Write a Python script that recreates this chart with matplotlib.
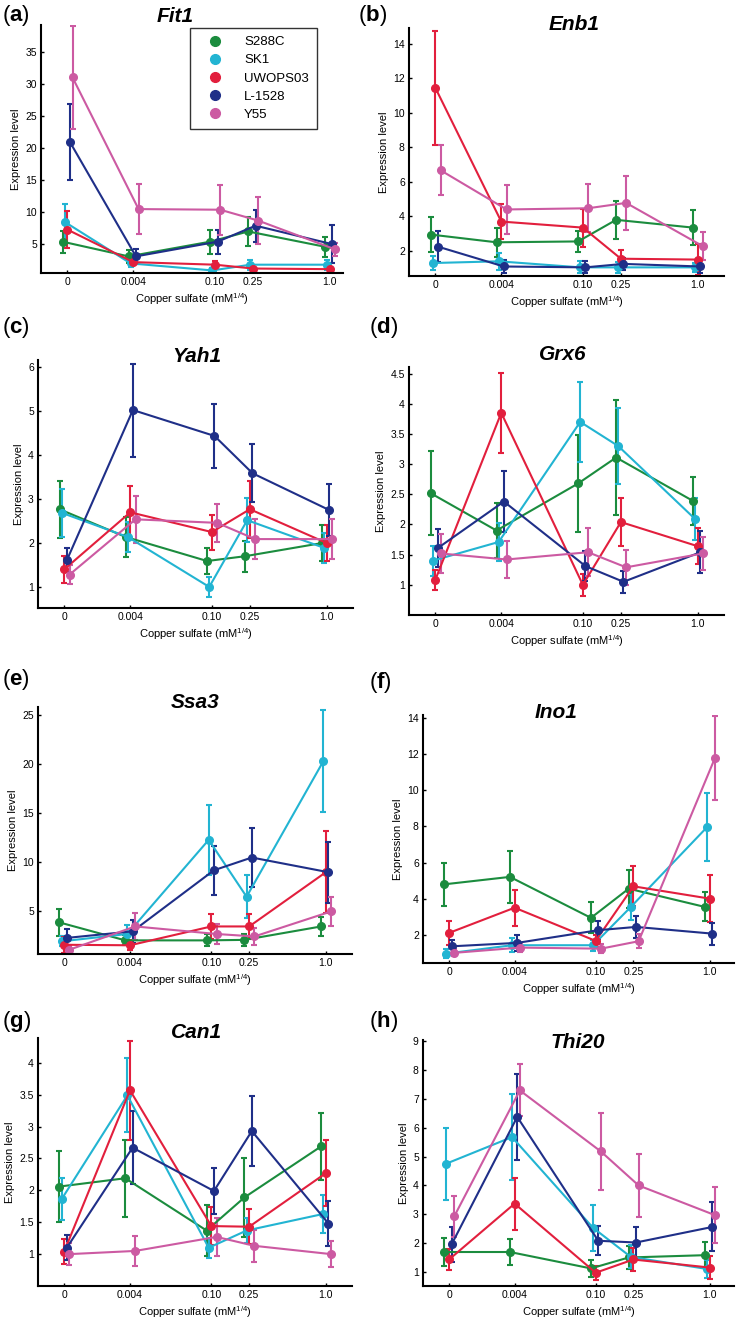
import numpy as np
import matplotlib
matplotlib.use('Agg')
import matplotlib.pyplot as plt
from matplotlib.ticker import FormatStrFormatter

plt.rcParams['font.family'] = ['Liberation Sans', 'DejaVu Sans']
plt.rcParams['mathtext.fontset'] = 'custom'
plt.rcParams['mathtext.rm'] = 'Liberation Sans'
plt.rcParams['mathtext.bf'] = 'Liberation Sans:bold'

W, H = 742, 1322

# copper sulfate doses, plotted on a x^(1/4) scale
doses = [0, 0.004, 0.10, 0.25, 1.0]
dose_labels = ['0', '0.004', '0.10', '0.25', '1.0']
strains = ['S288C', 'SK1', 'UWOPS03', 'L-1528', 'Y55']
colors = ['#1b8c3e', '#22b4d2', '#e21f3d', '#1f2f88', '#cc5aa2']
offsets = [-0.018, -0.010, 0.0, 0.010, 0.020]

# mean expression per strain (rows) and dose (cols), plus error bar half-widths
fit1 = [[5.4, 3.1, 5.4, 7.0, 4.6],
        [8.5, 2.0, 0.9, 1.8, 1.8],
        [7.3, 2.2, 1.8, 1.2, 1.1],
        [21.0, 3.1, 5.4, 7.9, 5.0],
        [31.1, 10.5, 10.4, 8.7, 4.2]]
fit1_err = [[1.7, 1.0, 1.9, 2.3, 1.6],
            [2.8, 0.5, 0.4, 0.8, 0.8],
            [2.9, 0.5, 0.6, 0.3, 0.3],
            [5.9, 1.2, 1.9, 2.5, 3.0],
            [8.1, 3.9, 3.9, 3.7, 1.0]]

enb1 = [[2.95, 2.5, 2.55, 3.8, 3.35],
        [1.3, 1.4, 1.05, 1.05, 1.05],
        [11.45, 3.7, 3.35, 1.55, 1.5],
        [2.25, 1.1, 1.05, 1.25, 1.1],
        [6.67, 4.4, 4.47, 4.78, 2.27]]
enb1_err = [[1.0, 0.85, 0.6, 1.1, 1.0],
            [0.4, 0.5, 0.35, 0.3, 0.25],
            [3.3, 1.0, 1.1, 0.5, 0.9],
            [0.9, 0.4, 0.35, 0.35, 0.4],
            [1.45, 1.4, 1.4, 1.55, 0.8]]

yah1 = [[2.77, 2.14, 1.59, 1.70, 2.0],
        [2.69, 2.14, 1.0, 2.52, 1.89],
        [1.40, 2.70, 2.25, 2.77, 2.0],
        [1.61, 5.03, 4.44, 3.59, 2.75],
        [1.28, 2.54, 2.46, 2.09, 2.09]]
yah1_err = [[0.65, 0.45, 0.3, 0.35, 0.4],
            [0.55, 0.35, 0.22, 0.5, 0.35],
            [0.3, 0.6, 0.4, 0.65, 0.4],
            [0.28, 1.06, 0.73, 0.66, 0.6],
            [0.22, 0.53, 0.43, 0.46, 0.45]]

grx6 = [[2.52, 1.90, 2.68, 3.11, 2.39],
        [1.40, 1.71, 3.70, 3.30, 2.09],
        [1.08, 3.85, 1.0, 2.04, 1.64],
        [1.61, 2.38, 1.31, 1.05, 1.54],
        [1.52, 1.42, 1.54, 1.29, 1.52]]
grx6_err = [[0.7, 0.45, 0.8, 0.95, 0.4],
            [0.25, 0.32, 0.66, 0.63, 0.35],
            [0.17, 0.66, 0.18, 0.4, 0.3],
            [0.31, 0.5, 0.25, 0.18, 0.35],
            [0.33, 0.3, 0.4, 0.29, 0.28]]

ssa3 = [[3.88, 2.05, 2.05, 2.1, 3.47],
        [1.95, 2.7, 12.3, 6.5, 20.3],
        [1.6, 1.55, 3.47, 3.47, 9.0],
        [2.3, 2.97, 9.2, 10.5, 9.0],
        [1.1, 3.47, 2.7, 2.45, 5.0]]
ssa3_err = [[1.35, 0.5, 0.6, 0.6, 1.0],
            [0.5, 0.9, 3.6, 2.2, 5.2],
            [0.8, 0.5, 1.3, 1.3, 4.2],
            [0.9, 1.2, 2.5, 3.0, 3.1],
            [0.4, 1.4, 1.0, 0.85, 1.5]]

ino1 = [[4.81, 5.22, 2.96, 4.57, 3.56],
        [0.99, 1.45, 1.45, 3.56, 7.97],
        [2.13, 3.52, 1.69, 4.7, 4.02],
        [1.39, 1.58, 2.28, 2.46, 2.09],
        [1.03, 1.32, 1.26, 1.67, 11.78]]
ino1_err = [[1.2, 1.45, 0.85, 1.05, 0.8],
            [0.25, 0.4, 0.3, 0.72, 1.85],
            [0.65, 1.0, 0.35, 1.1, 1.3],
            [0.35, 0.45, 0.5, 0.6, 0.6],
            [0.2, 0.25, 0.25, 0.4, 2.3]]

can1 = [[2.06, 2.19, 1.37, 1.89, 2.69],
        [1.86, 3.49, 1.10, 1.37, 1.63],
        [1.04, 3.57, 1.44, 1.43, 2.27],
        [1.10, 2.67, 1.99, 2.93, 1.48],
        [1.0, 1.05, 1.27, 1.13, 1.0]]
can1_err = [[0.55, 0.6, 0.4, 0.62, 0.53],
            [0.33, 0.58, 0.16, 0.2, 0.3],
            [0.2, 0.78, 0.3, 0.27, 0.52],
            [0.2, 0.57, 0.36, 0.55, 0.35],
            [0.17, 0.24, 0.3, 0.25, 0.2]]

thi20 = [[1.69, 1.69, 1.12, 1.5, 1.58],
         [4.76, 5.68, 2.53, 1.52, 1.1],
         [1.43, 3.37, 0.97, 1.43, 1.15],
         [1.96, 6.38, 2.08, 2.02, 2.56],
         [2.93, 7.3, 5.18, 4.0, 2.97]]
thi20_err = [[0.5, 0.45, 0.3, 0.4, 0.45],
             [1.25, 1.5, 0.8, 0.4, 0.3],
             [0.35, 0.9, 0.25, 0.4, 0.4],
             [0.6, 1.5, 0.5, 0.55, 0.85],
             [0.72, 0.9, 1.35, 1.1, 0.97]]

# (letter, gene, means, errors, yticks)
panels = [
    ('a', 'Fit1', fit1, fit1_err, [5, 10, 15, 20, 25, 30, 35]),
    ('b', 'Enb1', enb1, enb1_err, [2, 4, 6, 8, 10, 12, 14]),
    ('c', 'Yah1', yah1, yah1_err, [1, 2, 3, 4, 5, 6]),
    ('d', 'Grx6', grx6, grx6_err, [1, 1.5, 2, 2.5, 3, 3.5, 4, 4.5]),
    ('e', 'Ssa3', ssa3, ssa3_err, [5, 10, 15, 20, 25]),
    ('f', 'Ino1', ino1, ino1_err, [2, 4, 6, 8, 10, 12, 14]),
    ('g', 'Can1', can1, can1_err, [1, 1.5, 2, 2.5, 3, 3.5, 4]),
    ('h', 'Thi20', thi20, thi20_err, [1, 2, 3, 4, 5, 6, 7, 8, 9]),
]

# layout in pixels: axes box (left, right, top, bottom), ylim, xlim, title pos, label pos
layout = {
    'a': dict(box=(41, 343, 25, 273), ylim=(0.5, 39.3), xlim=(-0.1, 1.05), title=(175, 16), lab=(2, 15)),
    'b': dict(box=(409, 724, 28, 276), ylim=(0.55, 14.9), xlim=(-0.1, 1.1), title=(574, 24), lab=(358, 15)),
    'c': dict(box=(38, 353, 360, 608), ylim=(0.52, 6.17), xlim=(-0.1, 1.1), title=(197, 356), lab=(2, 327)),
    'd': dict(box=(409, 724, 367, 615), ylim=(0.5, 4.61), xlim=(-0.1, 1.1), title=(563, 355), lab=(369, 327)),
    'e': dict(box=(38, 352, 707, 954), ylim=(0.66, 25.85), xlim=(-0.1, 1.1), title=(195, 703), lab=(2, 680)),
    'f': dict(box=(423, 734, 715, 963), ylim=(0.47, 14.15), xlim=(-0.1, 1.093), title=(556, 712), lab=(369, 682)),
    'g': dict(box=(38, 352, 1038, 1286), ylim=(0.5, 4.39), xlim=(-0.1, 1.1), title=(197, 1033), lab=(2, 1021)),
    'h': dict(box=(423, 734, 1040, 1286), ylim=(0.51, 9.05), xlim=(-0.1, 1.093), title=(578, 1042), lab=(369, 1021)),
}

fig = plt.figure(figsize=(W / 100, H / 100), dpi=100)
xpos = np.array(doses) ** 0.25

for letter, gene, means, errs, yticks in panels:
    lay = layout[letter]
    l, r, t, b = lay['box']
    ax = fig.add_axes([l / W, 1 - b / H, (r - l) / W, (b - t) / H])
    for i in range(len(strains)):
        ax.errorbar(xpos + offsets[i], means[i], yerr=errs[i], color=colors[i],
                    marker='o', ms=5.5, lw=1.5, elinewidth=1.5, capsize=2, capthick=1.5,
                    label=strains[i])
    ax.set_xlim(*lay['xlim'])
    ax.set_ylim(*lay['ylim'])
    ax.set_xticks(xpos)
    ax.set_xticklabels(dose_labels)
    ax.set_yticks(yticks)
    ax.yaxis.set_major_formatter(FormatStrFormatter('%g'))
    for s in ['top', 'right']:
        ax.spines[s].set_visible(False)
    for s in ['left', 'bottom']:
        ax.spines[s].set_linewidth(1.5)
    ax.tick_params(direction='in', length=2.5, width=1, labelsize=7.5, pad=3)
    ax.set_xlabel('Copper sulfate (mM$^{1/4}$)', fontsize=8, labelpad=3)
    ax.set_ylabel('Expression level', fontsize=8, labelpad=3)

    tx, ty = lay['title']
    fig.text(tx / W, 1 - ty / H, gene, fontsize=15, fontweight='bold', fontstyle='italic',
             ha='center', va='center')
    lx, ly = lay['lab']
    fig.text(lx / W, 1 - ly / H, r'($\mathbf{%s}$)' % letter, fontsize=16,
             ha='left', va='center')

    if letter == 'a':
        handles = [plt.Line2D([], [], ls='none', marker='o', ms=7, color=c) for c in colors]
        leg = ax.legend(handles, strains, loc='upper left',
                        bbox_to_anchor=(190 / W, 1 - 28 / H), bbox_transform=fig.transFigure,
                        fontsize=9.5, frameon=True, fancybox=False, edgecolor='black',
                        handlelength=2.6, handletextpad=0.9, borderpad=0.6, labelspacing=0.45,
                        borderaxespad=0)
        leg.get_frame().set_linewidth(1.0)

fig.savefig('out.png', dpi=100)
